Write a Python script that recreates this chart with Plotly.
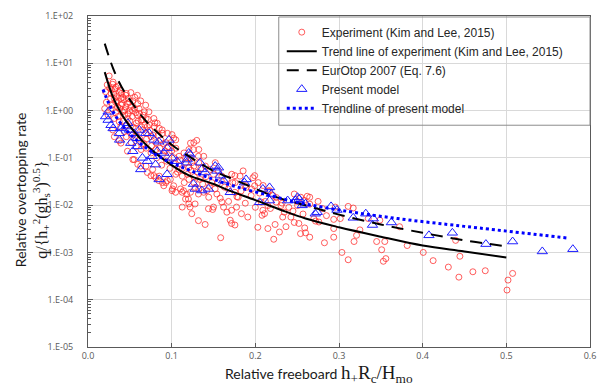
import plotly.graph_objects as go

# ---------------- data ----------------
exp_x = [0.020, 0.021, 0.022, 0.023, 0.024, 0.0253, 0.0276, 0.0276, 0.028, 0.0295, 0.0295, 0.030,
         0.0315, 0.0315, 0.0315, 0.032, 0.0335, 0.034, 0.0354, 0.0374, 0.0374, 0.0374, 0.0385, 0.0394,
         0.0398, 0.0393, 0.0413, 0.0418, 0.0433, 0.0438, 0.0453, 0.0458, 0.0458, 0.0472, 0.0472, 0.0472,
         0.0497, 0.0497, 0.0497, 0.0512, 0.0517, 0.0531, 0.0536, 0.0536, 0.055, 0.0556, 0.0571, 0.0576,
         0.0576, 0.059, 0.059, 0.0595, 0.0595, 0.0615, 0.063, 0.063, 0.0635, 0.0635, 0.065, 0.0655,
         0.0674, 0.0689, 0.0694, 0.0694, 0.0694, 0.0694, 0.0709, 0.0709, 0.0728, 0.0733, 0.0753, 0.0753,
         0.0752, 0.0773, 0.0787, 0.0788, 0.0792, 0.0812, 0.0812, 0.081, 0.0827, 0.0847, 0.0852, 0.0852,
         0.0871, 0.0886, 0.089, 0.0891, 0.0891, 0.0906, 0.093, 0.093, 0.0948, 0.095, 0.097, 0.0984,
         0.099, 0.1004, 0.1004, 0.101, 0.1024, 0.1024, 0.1029, 0.1047, 0.1049, 0.1049, 0.1088, 0.1088,
         0.1106, 0.1126, 0.1126, 0.1127, 0.1142, 0.1147, 0.1166, 0.1167, 0.118, 0.120, 0.1205, 0.1206,
         0.1206, 0.1206, 0.122, 0.1225, 0.1225, 0.1226, 0.124, 0.124, 0.126, 0.1265, 0.1265, 0.1265,
         0.128, 0.128, 0.130, 0.132, 0.132, 0.132, 0.1324, 0.1324, 0.1324, 0.134, 0.1383, 0.1383,
         0.140, 0.1403, 0.142, 0.1443, 0.144, 0.1462, 0.148, 0.149, 0.150, 0.1521, 0.152, 0.154,
         0.156, 0.1586, 0.160, 0.160, 0.162, 0.1659, 0.166, 0.1677, 0.170, 0.1716, 0.1716, 0.1718,
         0.1756, 0.1756, 0.1756, 0.1758, 0.1775, 0.1795, 0.1817, 0.1834, 0.1854, 0.1876, 0.189, 0.191,
         0.1955, 0.1972, 0.1992, 0.1992, 0.203, 0.2034, 0.207, 0.208, 0.209, 0.2093, 0.211, 0.215,
         0.215, 0.2152, 0.217, 0.2211, 0.222, 0.2236, 0.2248, 0.2288, 0.2307, 0.2327, 0.2346, 0.2366,
         0.2425, 0.2465, 0.2465, 0.2504, 0.252, 0.2543, 0.254, 0.2583, 0.259, 0.260, 0.262, 0.265,
         0.265, 0.270, 0.272, 0.276, 0.2826, 0.2937, 0.2937, 0.2937, 0.2956, 0.3015, 0.3035, 0.311,
         0.311, 0.317, 0.318, 0.321, 0.325, 0.335, 0.345, 0.3488, 0.351, 0.353, 0.356, 0.3547,
         0.3724, 0.3815, 0.4007, 0.4125, 0.4307, 0.4394, 0.4433, 0.4445, 0.460, 0.4748, 0.5008, 0.502,
         0.5075,
         0.026, 0.027, 0.029, 0.031, 0.033, 0.033, 0.035, 0.036, 0.036, 0.038, 0.039, 0.040,
         0.041, 0.042, 0.043, 0.044, 0.045, 0.046, 0.048, 0.048, 0.050, 0.051, 0.052, 0.053,
         0.054, 0.056, 0.057, 0.058, 0.060, 0.061, 0.062, 0.064, 0.066, 0.067, 0.068, 0.070,
         0.072, 0.074, 0.076, 0.078, 0.080, 0.082, 0.084, 0.086, 0.088, 0.090, 0.092, 0.094,
         0.096, 0.098, 0.100, 0.103, 0.105, 0.107, 0.110, 0.113, 0.115, 0.117, 0.119, 0.123,
         0.127, 0.131, 0.135, 0.137, 0.141, 0.145, 0.150, 0.155, 0.158, 0.163, 0.168, 0.173,
         0.178, 0.183, 0.188, 0.195, 0.200, 0.205, 0.212, 0.218, 0.225, 0.232, 0.240, 0.245,
         0.250, 0.257, 0.265, 0.275, 0.280, 0.285]
exp_q = [1.1, 2.5, 1.5, 3.5, 0.8, 5.4, 2.3, 1.1, 2.8, 3.6, 0.39, 4.0,
         1.8, 0.68, 0.28, 2.9, 3.1, 1.6, 1.19, 2.4, 0.58, 0.23, 2.7, 1.8,
         1.3, 0.205, 0.94, 1.9, 0.36, 1.0, 2.1, 2.3, 0.28, 1.4, 0.68, 0.138,
         1.5, 1.0, 0.39, 2.4, 0.21, 1.0, 1.6, 0.092, 0.092, 1.1, 0.42, 0.54,
         0.175, 2.1, 0.80, 1.4, 0.073, 0.87, 1.6, 0.067, 0.63, 0.15, 0.63, 0.39,
         0.94, 1.3, 0.68, 0.33, 0.16, 0.067, 0.46, 0.049, 0.94, 0.50, 0.28, 0.127,
         0.042, 0.057, 0.68, 0.042, 0.46, 0.21, 0.15, 0.038, 0.54, 0.033, 0.42, 0.041,
         0.24, 0.39, 0.030, 0.33, 0.117, 0.0257, 0.21, 0.030, 0.033, 0.33, 0.127, 0.035,
         0.21, 0.31, 0.0202, 0.022, 0.26, 0.0257, 0.10, 0.0187, 0.24, 0.045, 0.108, 0.057,
         0.022, 0.0187, 0.0091, 0.041, 0.0202, 0.127, 0.0135, 0.079, 0.017, 0.0135, 0.0106, 0.15,
         0.062, 0.035, 0.0091, 0.205, 0.0187, 0.10, 0.079, 0.0066, 0.149, 0.21, 0.067, 0.030,
         0.0237, 0.0106, 0.234, 0.108, 0.0172, 0.0047, 0.15, 0.079, 0.022, 0.035, 0.108, 0.0187,
         0.0039, 0.067, 0.0202, 0.0147, 0.0084, 0.057, 0.030, 0.0081, 0.0091, 0.079, 0.022, 0.0172,
         0.053, 0.00205, 0.041, 0.0116, 0.0091, 0.035, 0.0071, 0.022, 0.0048, 0.0078, 0.0041, 0.045,
         0.042, 0.0187, 0.0038, 0.030, 0.0091, 0.0147, 0.041, 0.0066, 0.053, 0.026, 0.0237, 0.0056,
         0.022, 0.038, 0.042, 0.0257, 0.0034, 0.030, 0.0116, 0.0061, 0.0078, 0.026, 0.0066, 0.0098,
         0.0032, 0.020, 0.0202, 0.016, 0.0019, 0.0039, 0.0116, 0.0027, 0.0098, 0.0056, 0.0071, 0.0035,
         0.0056, 0.0172, 0.0043, 0.0098, 0.0041, 0.0147, 0.0025, 0.0126, 0.0033, 0.0026, 0.0154, 0.0147,
         0.0021, 0.0052, 0.0046, 0.0044, 0.0016, 0.0050, 0.0032, 0.0021, 0.0091, 0.0052, 0.0010, 0.0094,
         0.0007, 0.0087, 0.0017, 0.0023, 0.0030, 0.0052, 0.0017, 0.0048, 0.00114, 0.00065, 0.00074, 0.0017,
         0.0035, 0.0014, 0.0010, 0.00067, 0.00049, 0.0018, 0.0003, 0.00083, 0.00039, 0.00041, 0.00016, 0.00026,
         0.00036,
         3.0, 1.8, 1.3, 2.2, 1.5, 0.9, 2.0, 0.75, 3.3, 1.1, 0.45, 2.3,
         1.4, 0.6, 1.7, 0.8, 1.2, 0.5, 1.8, 0.85, 0.6, 1.2, 0.3, 0.75,
         0.45, 1.9, 0.9, 0.3, 0.6, 1.1, 0.25, 0.45, 0.8, 0.2, 0.5, 0.25,
         0.65, 0.38, 0.18, 0.3, 0.55, 0.10, 0.30, 0.16, 0.07, 0.20, 0.14, 0.085,
         0.17, 0.06, 0.14, 0.075, 0.16, 0.05, 0.09, 0.06, 0.03, 0.10, 0.045, 0.055,
         0.04, 0.05, 0.06, 0.028, 0.04, 0.025, 0.045, 0.03, 0.014, 0.024, 0.012, 0.03,
         0.015, 0.02, 0.011, 0.016, 0.009, 0.018, 0.012, 0.0085, 0.0145, 0.011, 0.009, 0.0075,
         0.012, 0.0065, 0.0105, 0.012, 0.0085, 0.006]

model_x = [0.021, 0.024, 0.024, 0.0275, 0.030, 0.0374, 0.0378, 0.0393, 0.0452, 0.0476, 0.0496, 0.0511,
           0.0535, 0.055, 0.059, 0.059, 0.0614, 0.063, 0.065, 0.0689, 0.0709, 0.0732, 0.0768, 0.0788,
           0.0807, 0.0827, 0.0847, 0.085, 0.0906, 0.0945, 0.0948, 0.0968, 0.1004, 0.1063, 0.118, 0.1185,
           0.1205, 0.122, 0.126, 0.128, 0.134, 0.136, 0.136, 0.140, 0.144, 0.152, 0.154, 0.156,
           0.158, 0.162, 0.170, 0.187, 0.189, 0.205, 0.209, 0.217, 0.219, 0.217, 0.2386, 0.248,
           0.2504, 0.2524, 0.256, 0.260, 0.2716, 0.274, 0.2905, 0.2976, 0.317, 0.332, 0.341, 0.340,
           0.3626, 0.4075, 0.4355, 0.4756, 0.5075, 0.543, 0.5795]
model_q = [0.75, 0.94, 0.63, 0.49, 0.42, 0.33, 0.24, 0.42, 0.46, 0.54, 0.39, 0.205,
           0.138, 0.33, 0.26, 0.175, 0.39, 0.057, 0.10, 0.33, 0.085, 0.33, 0.108, 0.24,
           0.072, 0.138, 0.22, 0.035, 0.127, 0.045, 0.161, 0.24, 0.10, 0.085, 0.079, 0.092,
           0.127, 0.117, 0.028, 0.022, 0.079, 0.057, 0.0204, 0.049, 0.022, 0.067, 0.053, 0.062,
           0.042, 0.033, 0.0187, 0.030, 0.035, 0.0115, 0.022, 0.0237, 0.0172, 0.0125, 0.0125, 0.0126,
           0.0147, 0.0135, 0.0099, 0.0107, 0.0066, 0.0071, 0.0094, 0.0079, 0.0054, 0.0066, 0.0052, 0.0038,
           0.0043, 0.0023, 0.0026, 0.0015, 0.0017, 0.00105, 0.00117]

trend_exp_x = [0.02, 0.03, 0.04, 0.05, 0.07, 0.10, 0.12, 0.15, 0.17, 0.20, 0.23, 0.26, 0.30, 0.35, 0.40, 0.45, 0.50]
trend_exp_q = [6.5, 1.9, 0.85, 0.47, 0.185, 0.07, 0.043, 0.028, 0.020, 0.0128, 0.0080, 0.0052, 0.0034, 0.00215,
               0.0014, 0.00105, 0.00078]

eurotop_x = [0.02, 0.03, 0.04, 0.05, 0.07, 0.10, 0.12, 0.15, 0.176, 0.224, 0.262, 0.30, 0.35, 0.40, 0.45, 0.50]
eurotop_q = [26.0, 7.8, 3.2, 1.7, 0.58, 0.19, 0.11, 0.053, 0.034, 0.0150, 0.0097, 0.0063, 0.0039, 0.0026,
             0.0018, 0.00135]

trend_model_x = [0.018, 0.025, 0.035, 0.05, 0.07, 0.09, 0.12, 0.15, 0.18, 0.22, 0.25, 0.31, 0.37, 0.43, 0.48, 0.575]
trend_model_q = [2.8, 1.4, 0.68, 0.32, 0.16, 0.095, 0.056, 0.035, 0.0237, 0.0155, 0.0115, 0.0074, 0.0052,
                 0.0039, 0.0031, 0.0020]

x_ticks = [0.0, 0.1, 0.2, 0.3, 0.4, 0.5, 0.6]
x_ticklabels = ["0.0", "0.1", "0.2", "0.3", "0.4", "0.5", "0.6"]
y_ticks = [1e-5, 1e-4, 1e-3, 1e-2, 1e-1, 1e0, 1e1, 1e2]
y_ticklabels = ["1.E-05", "1.E-04", "1.E-03", "1.E-02", "1.E-01", "1.E+00", "1.E+01", "1.E+02"]

# ---------------- figure ----------------
fig = go.Figure()

fig.add_trace(go.Scatter(
    x=exp_x, y=exp_q, mode="markers", name="Experiment (Kim and Lee, 2015)", legendrank=1,
    marker=dict(symbol="circle-open", size=6, color="rgba(255,40,40,0.75)", line=dict(width=1))))
fig.add_trace(go.Scatter(
    x=model_x, y=model_q, mode="markers", name="Present model", legendrank=4,
    marker=dict(symbol="triangle-up-open", size=9, color="rgb(30,30,255)", line=dict(width=1))))
fig.add_trace(go.Scatter(
    x=trend_exp_x, y=trend_exp_q, mode="lines", name="Trend line of experiment (Kim and Lee, 2015)",
    legendrank=2, line=dict(color="black", width=2, shape="spline")))
fig.add_trace(go.Scatter(
    x=eurotop_x, y=eurotop_q, mode="lines", name="EurOtop 2007 (Eq. 7.6)", legendrank=3,
    line=dict(color="black", width=2, dash="12px,8px", shape="spline")))
fig.add_trace(go.Scatter(
    x=trend_model_x, y=trend_model_q, mode="lines", name="Trendline of present model", legendrank=5,
    line=dict(color="rgb(0,0,255)", width=3, dash="3px,3px", shape="spline")))

axis_common = dict(showgrid=True, gridcolor="#d9d9d9", gridwidth=1, linecolor="#595959", linewidth=1,
                   mirror=True, ticks="inside", tickcolor="#595959", zeroline=False,
                   tickfont=dict(family="Open Sans", size=9, color="#595959"))

fig.update_xaxes(range=[0, 0.6], tickvals=x_ticks, ticktext=x_ticklabels, ticklen=4, **axis_common)
fig.update_yaxes(type="log", range=[-5, 2], tickvals=y_ticks, ticktext=y_ticklabels, ticklen=5,
                 ticklabelstandoff=12,
                 minor=dict(ticks="inside", ticklen=3, tickcolor="#595959", dtick="D1", showgrid=False),
                 **axis_common)

fig.update_layout(
    width=605, height=387,
    margin=dict(l=88, r=9, t=11, b=40),
    plot_bgcolor="white", paper_bgcolor="white",
    showlegend=True,
    legend=dict(x=0.386, y=0.995, xanchor="left", yanchor="top", bgcolor="rgba(0,0,0,0)",
                borderwidth=0,
                font=dict(family="Liberation Sans", size=12, color="#262626"),
                tracegroupgap=0, itemwidth=30),
    shapes=[dict(type="rect", xref="paper", yref="paper", x0=0.38, x1=1.0, y0=0.67, y1=0.997,
                 line=dict(color="#8c8c8c", width=1), fillcolor="rgba(0,0,0,0)", layer="above")],
    annotations=[
        dict(text="Relative overtopping rate", xref="paper", yref="paper", x=-0.134, y=0.476,
             textangle=-90, showarrow=False, xanchor="center", yanchor="middle",
             font=dict(family="Lato", size=14, color="#1a1a1a")),
        dict(text="q/{h<sub>+</sub><sup>2</sup>(gh<sub>s</sub><sup>3</sup>)<sup>0.5</sup>}",
             xref="paper", yref="paper", x=-0.094, y=0.414,
             textangle=-90, showarrow=False, xanchor="center", yanchor="middle",
             font=dict(family="Liberation Serif", size=16, color="#1a1a1a")),
        dict(text='Relative freeboard <span style="font-family:Liberation Serif;font-size:19px">h<sub>+</sub>R<sub>c</sub>/H<sub>mo</sub></span>',
             xref="paper", yref="paper", x=0.46, y=-0.083, showarrow=False,
             xanchor="center", yanchor="middle",
             font=dict(family="Lato", size=14, color="#1a1a1a")),
    ],
)

fig.write_html("out.html", config={"displayModeBar": False},
               post_script="document.body.style.margin='0px';document.body.style.overflow='hidden';")
